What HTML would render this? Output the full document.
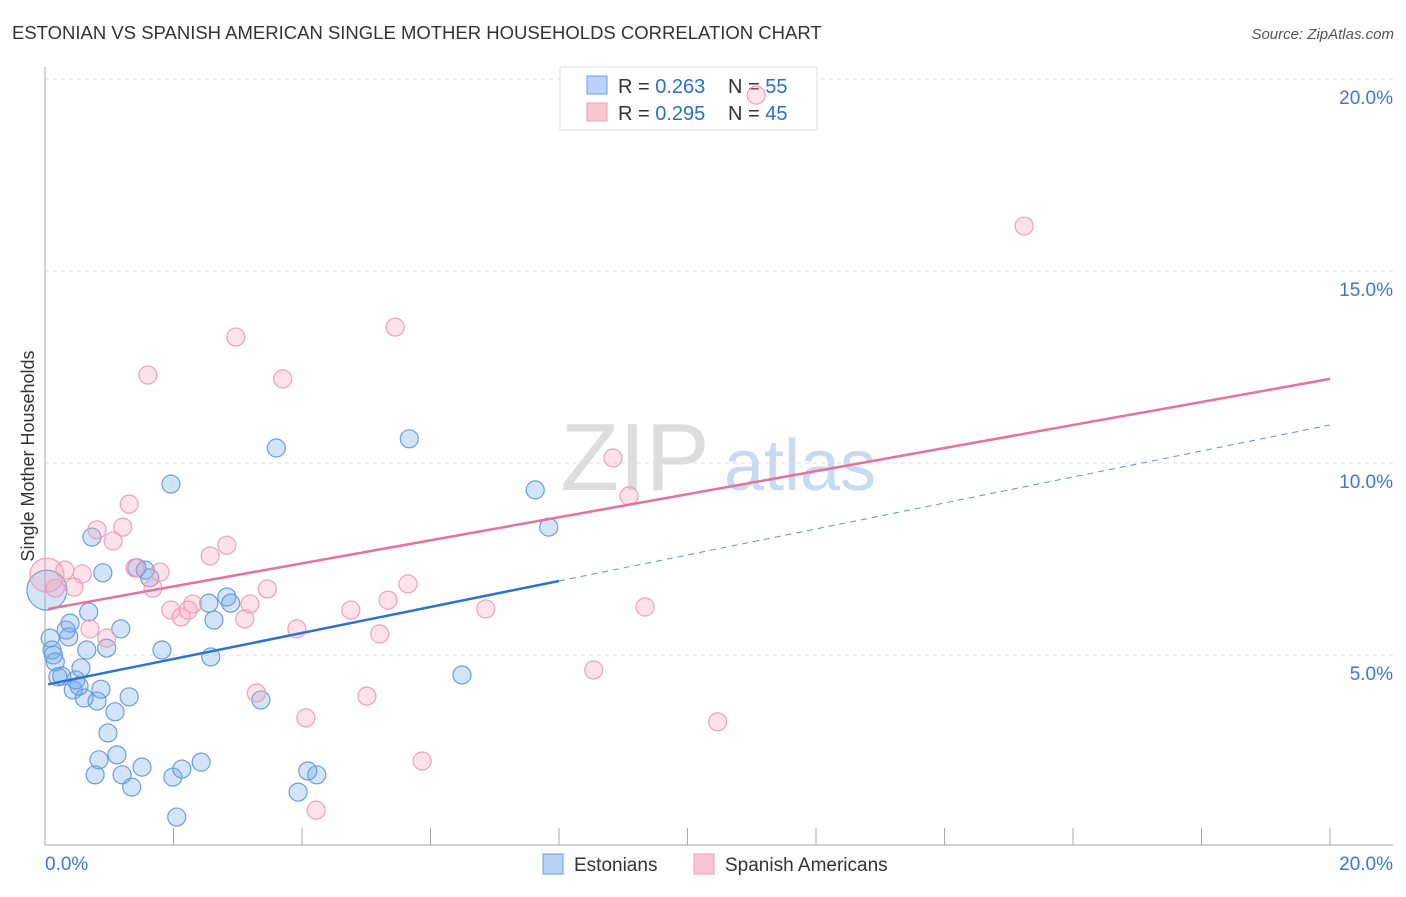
<!DOCTYPE html>
<html><head><meta charset="utf-8"><style>
body{margin:0;background:#fff;font-family:"Liberation Sans",sans-serif}
svg text{font-family:"Liberation Sans",sans-serif}
</style></head><body>
<svg id="c" width="1406" height="892" xmlns="http://www.w3.org/2000/svg">
<text x="12" y="39" font-size="18.5" fill="#333">ESTONIAN VS SPANISH AMERICAN SINGLE MOTHER HOUSEHOLDS CORRELATION CHART</text>
<text x="1394" y="39" font-size="15" fill="#555" text-anchor="end" font-style="italic">Source: ZipAtlas.com</text>
<text x="635" y="490" font-size="96" fill="#ddd" font-family="Liberation Serif" text-anchor="middle">ZIP</text>
<text x="800" y="490" font-size="72" fill="#c8daf2" text-anchor="middle">atlas</text>
<g id="grid"></g><g id="axes"></g>
<g>
<rect x="560" y="67" width="257" height="63" fill="#fff" stroke="#ddd"/>
<rect x="587" y="76" width="20" height="18" fill="#b8d3f5" stroke="#6a9ee0"/>
<rect x="587" y="103" width="20" height="18" fill="#f9c4d3" stroke="#f0a0b8"/>
<text x="618" y="93" font-size="20" fill="#333">R = <tspan fill="#2a6fd0">0.263</tspan></text>
<text x="728" y="93" font-size="20" fill="#333">N = <tspan fill="#2a6fd0">55</tspan></text>
<text x="618" y="120" font-size="20" fill="#333">R = <tspan fill="#2a6fd0">0.295</tspan></text>
<text x="728" y="120" font-size="20" fill="#333">N = <tspan fill="#2a6fd0">45</tspan></text>
</g>
<g id="pts"></g><g id="lines"></g>
<text transform="translate(34,456) rotate(-90)" font-size="18" fill="#333" text-anchor="middle">Single Mother Households</text>
<g>
<rect x="543" y="854" width="20" height="20" fill="#b8d3f5" stroke="#6a9ee0"/>
<text x="574" y="871" font-size="19" fill="#333">Estonians</text>
<rect x="694" y="854" width="20" height="20" fill="#f9c4d3" stroke="#f0a0b8"/>
<text x="725" y="871" font-size="19" fill="#333">Spanish Americans</text>
</g>
</svg>
<script>
const blueX=[0.08,0.11,0.16,0.20,0.26,0.33,0.37,0.39,0.44,0.48,0.53,0.56,0.61,0.65,0.68,0.73,0.78,0.81,0.84,0.87,0.90,0.96,0.98,1.09,1.12,1.18,1.20,1.31,1.35,1.43,1.51,1.56,1.63,1.82,1.96,1.99,2.05,2.13,2.43,2.55,2.58,2.63,2.83,2.89,3.36,3.60,3.94,4.09,4.23,5.67,6.49,7.63,7.84,0.13];
const blueY=[5.44,5.13,4.82,4.43,4.45,5.65,5.47,5.83,4.09,4.35,4.19,4.66,3.88,5.13,6.12,8.07,1.88,3.80,2.27,4.11,7.14,5.18,2.97,3.52,2.40,5.68,1.88,3.91,1.56,7.27,2.08,7.21,7.01,5.13,9.45,1.82,0.78,2.03,2.21,6.35,4.95,5.91,6.51,6.35,3.83,10.39,1.43,1.98,1.88,10.63,4.48,9.30,8.33,5.0];
const pinkX=[0.16,0.31,0.45,0.58,0.70,0.81,0.96,1.06,1.21,1.31,1.40,1.60,1.68,1.79,1.96,2.12,2.23,2.30,2.57,2.83,2.97,3.11,3.19,3.29,3.46,3.70,3.92,4.06,4.22,4.76,5.01,5.21,5.34,5.45,5.65,5.87,6.86,8.54,8.84,9.09,9.34,10.47,11.07,15.24];
const pinkY=[6.74,7.21,6.77,7.11,5.68,8.26,5.44,7.97,8.33,8.93,7.27,12.29,6.74,7.16,6.17,5.99,6.17,6.33,7.58,7.86,13.28,5.94,6.33,4.01,6.72,12.19,5.68,3.36,0.96,6.17,3.93,5.55,6.43,13.54,6.85,2.24,6.20,4.61,10.13,9.14,6.25,3.26,19.58,16.17];
const blueBig=[0.03,6.69], pinkBig=[0.03,7.08];
const blueLine=[4.22,10.99], pinkLine=[6.2,12.19], blueSolidEnd=8.0;
const yTicks=[5,10,15,20], xTicks=[0,2,4,6,8,10,12,14,16,18,20];
const NS="http://www.w3.org/2000/svg";
const sx=v=>45+v/20*1285, sy=v=>847-v/5*192;
function mk(p,t,a){const e=document.createElementNS(NS,t);for(const k in a)e.setAttribute(k,a[k]);document.getElementById(p).appendChild(e);return e;}
yTicks.forEach(t=>{const g=mk('grid','line',{x1:45,x2:1393,y1:sy(t),y2:sy(t),stroke:'#ddd','stroke-dasharray':'4,4'});


const l=mk('grid','text',{x:1393,y:sy(t)+25,'font-size':19,fill:'#3b78d0','text-anchor':'end'});l.textContent=t.toFixed(1)+'%';

});
let a=mk('axes','line',{x1:45,x2:45,y1:67,y2:845,stroke:'#aaa'});


a=mk('axes','line',{x1:45,x2:1393,y1:845,y2:845,stroke:'#aaa'});


xTicks.forEach(t=>{const e=mk('axes','line',{x1:sx(t),x2:sx(t),y1:828,y2:845,stroke:'#aaa'});

});
let xl=mk('axes','text',{x:45,y:870,'font-size':19,fill:'#3b78d0'});xl.textContent='0.0%';


xl=mk('axes','text',{x:1393,y:870,'font-size':19,fill:'#3b78d0','text-anchor':'end'});xl.textContent='20.0%';


function dot(x,y,r,c){const e=mk('pts','circle',{cx:sx(x),cy:sy(y),r:r,fill:c[0],stroke:c[1],'stroke-width':1.2});

}
const BC=['rgba(110,165,230,0.3)','#6a9ee0'], PC=['rgba(245,160,185,0.3)','#f0a0b8'];
dot(blueBig[0],blueBig[1],20,BC);dot(pinkBig[0],pinkBig[1],17,PC);
blueX.forEach((x,i)=>dot(x,blueY[i],9,BC));
pinkX.forEach((x,i)=>dot(x,pinkY[i],9,PC));
const by=x=>blueLine[0]+(blueLine[1]-blueLine[0])*x/20;
let L=mk('lines','line',{x1:sx(0.05),y1:sy(by(0.05)),x2:sx(blueSolidEnd),y2:sy(by(blueSolidEnd)),stroke:'#2a72d5','stroke-width':2.5});


L=mk('lines','line',{x1:sx(blueSolidEnd),y1:sy(by(blueSolidEnd)),x2:sx(20),y2:sy(blueLine[1]),stroke:'#5b93d9','stroke-width':1,'stroke-dasharray':'6,5'});


L=mk('lines','line',{x1:sx(0.05),y1:sy(pinkLine[0]),x2:sx(20),y2:sy(pinkLine[1]),stroke:'#e8709a','stroke-width':2.5});


</script>
</body></html>
